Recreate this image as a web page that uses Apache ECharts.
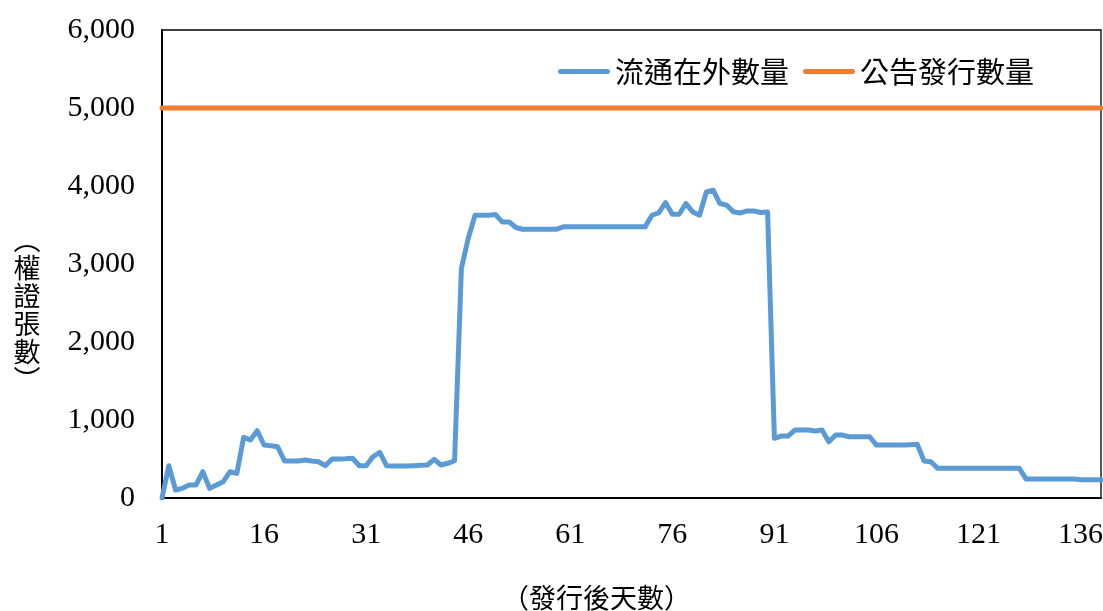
<!DOCTYPE html>
<html>
<head>
<meta charset="utf-8">
<script src="https://cdn.jsdelivr.net/npm/echarts@6/dist/echarts.min.js"></script>
<style>
  html, body { margin: 0; padding: 0; background: #fff; }
  #main { width: 1103px; height: 611px; }
</style>
</head>
<body>
<div id="main"></div>
<script>
// 發行後天數 (X軸類別)
var days = [
  1, 2, 3, 4, 5, 6, 7, 8, 9, 10, 11, 12, 13, 14, 15, 16, 17, 18, 19, 20,
  21, 22, 23, 24, 25, 26, 27, 28, 29, 30, 31, 32, 33, 34, 35, 36, 37, 38, 39, 40,
  41, 42, 43, 44, 45, 46, 47, 48, 49, 50, 51, 52, 53, 54, 55, 56, 57, 58, 59, 60,
  61, 62, 63, 64, 65, 66, 67, 68, 69, 70, 71, 72, 73, 74, 75, 76, 77, 78, 79, 80,
  81, 82, 83, 84, 85, 86, 87, 88, 89, 90, 91, 92, 93, 94, 95, 96, 97, 98, 99, 100,
  101, 102, 103, 104, 105, 106, 107, 108, 109, 110, 111, 112, 113, 114, 115, 116, 117, 118, 119, 120,
  121, 122, 123, 124, 125, 126, 127, 128, 129, 130, 131, 132, 133, 134, 135, 136, 137, 138, 139
];

// 流通在外數量
var outstanding = [
  0, 414, 102, 124, 167, 167, 337, 124, 167, 209, 337, 316, 778, 743, 862, 679, 670, 657, 474, 474,
  474, 487, 474, 465, 414, 500, 500, 503, 509, 414, 414, 529, 585, 414, 410, 410, 410, 414, 419, 423,
  496, 423, 445, 478, 2943, 3327, 3625, 3625, 3625, 3634, 3540, 3540, 3468, 3446, 3446, 3446, 3446, 3446, 3446, 3476,
  3476, 3476, 3476, 3476, 3476, 3476, 3476, 3476, 3476, 3476, 3476, 3476, 3625, 3655, 3788, 3638, 3638, 3775, 3668, 3625,
  3924, 3946, 3775, 3754, 3668, 3655, 3680, 3680, 3660, 3668, 765, 794, 794, 871, 871, 871, 858, 871, 721, 807,
  807, 785, 785, 785, 785, 679, 679, 679, 679, 679, 683, 688, 474, 465, 380, 380, 380, 380, 380, 380,
  380, 380, 380, 380, 380, 380, 380, 243, 243, 243, 243, 243, 243, 243, 243, 235, 235, 235, 235
];

// 公告發行數量
var issued = [
  5000, 5000, 5000, 5000, 5000, 5000, 5000, 5000, 5000, 5000, 5000, 5000, 5000, 5000, 5000, 5000, 5000, 5000, 5000, 5000,
  5000, 5000, 5000, 5000, 5000, 5000, 5000, 5000, 5000, 5000, 5000, 5000, 5000, 5000, 5000, 5000, 5000, 5000, 5000, 5000,
  5000, 5000, 5000, 5000, 5000, 5000, 5000, 5000, 5000, 5000, 5000, 5000, 5000, 5000, 5000, 5000, 5000, 5000, 5000, 5000,
  5000, 5000, 5000, 5000, 5000, 5000, 5000, 5000, 5000, 5000, 5000, 5000, 5000, 5000, 5000, 5000, 5000, 5000, 5000, 5000,
  5000, 5000, 5000, 5000, 5000, 5000, 5000, 5000, 5000, 5000, 5000, 5000, 5000, 5000, 5000, 5000, 5000, 5000, 5000, 5000,
  5000, 5000, 5000, 5000, 5000, 5000, 5000, 5000, 5000, 5000, 5000, 5000, 5000, 5000, 5000, 5000, 5000, 5000, 5000, 5000,
  5000, 5000, 5000, 5000, 5000, 5000, 5000, 5000, 5000, 5000, 5000, 5000, 5000, 5000, 5000, 5000, 5000, 5000, 5000
];

var seriesNames = ['流通在外數量', '公告發行數量'];
var yName = '︵\n權\n證\n張\n數\n︶';

var serif = '"Liberation Serif", "Times New Roman", serif';
var cjk = '"Noto Sans CJK TC", "Noto Sans CJK SC", sans-serif';
// 圖例用圓角線段
var lineIcon = 'path://M2.5,0 H49.5 A2.5,2.5 0 0 1 49.5,5 H2.5 A2.5,2.5 0 0 1 2.5,0 Z';

var myChart = echarts.init(document.getElementById('main'));
myChart.setOption({
  animation: false,
  backgroundColor: '#fff',
  grid: {
    left: 162, right: 2, top: 30, bottom: 113,
    outerBoundsMode: 'none',
    show: true, borderColor: '#000', borderWidth: 1.3
  },
  legend: {
    data: seriesNames,
    right: 69, top: 57,
    padding: 0,
    icon: lineIcon,
    itemWidth: 52, itemHeight: 5,
    itemGap: 14,
    textStyle: { fontFamily: cjk, fontSize: 29, lineHeight: 29, color: '#000' }
  },
  // 直排的Y軸標題
  graphic: [{
    type: 'text',
    x: 27, y: 310,
    style: {
      text: yName,
      fontFamily: cjk, fontSize: 27, lineHeight: 28, fill: '#000',
      align: 'center', verticalAlign: 'middle'
    }
  }],
  xAxis: {
    type: 'category',
    data: days,
    boundaryGap: false,
    name: '（發行後天數）',
    nameLocation: 'middle',
    nameGap: 86,
    nameTextStyle: { fontFamily: cjk, fontSize: 27, color: '#000', padding: [0, 70, 0, 0] },
    axisLine: { lineStyle: { color: '#000', width: 2 } },
    axisTick: { show: false },
    axisLabel: { interval: 14, margin: 22, fontFamily: serif, fontSize: 30, color: '#000' },
    splitLine: { show: false }
  },
  yAxis: {
    type: 'value',
    min: 0, max: 6000, interval: 1000,
    axisLine: { show: true, lineStyle: { color: '#000', width: 2 } },
    axisTick: { show: false },
    axisLabel: {
      margin: 27, fontFamily: serif, fontSize: 30, color: '#000',
      formatter: function (v) { return v.toLocaleString('en-US'); }
    },
    splitLine: { show: false }
  },
  series: [
    {
      name: seriesNames[0],
      type: 'line',
      data: outstanding,
      symbol: 'none',
      color: '#5B9BD5',
      lineStyle: { color: '#5B9BD5', width: 5, cap: 'round', join: 'round' },
      z: 3
    },
    {
      name: seriesNames[1],
      type: 'line',
      data: issued,
      symbol: 'none',
      color: '#ED7D31',
      lineStyle: { color: '#ED7D31', width: 5, cap: 'round' },
      z: 2
    }
  ]
});
</script>
</body>
</html>
